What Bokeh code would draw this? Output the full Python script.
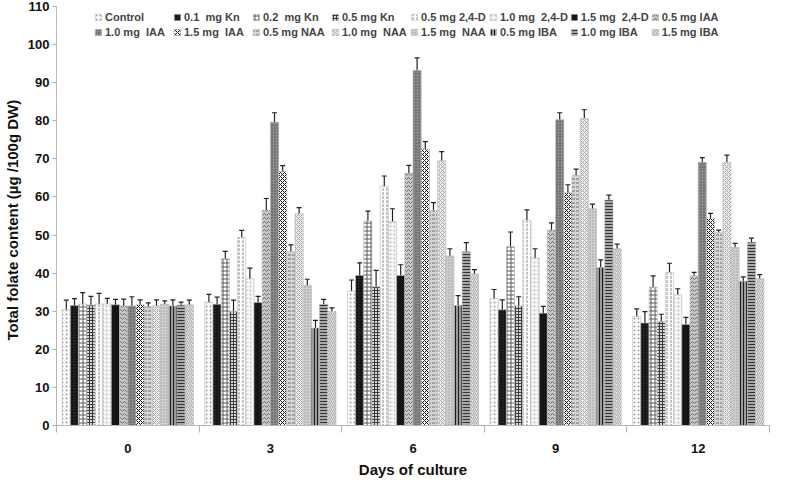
from bokeh.plotting import figure
from bokeh.models import (ColumnDataSource, Whisker, TeeHead, FixedTicker, Legend,
                          LegendItem, Range1d)
from bokeh.embed import file_html
from bokeh.resources import INLINE

days = ["0", "3", "6", "9", "12"]
series = ["Control", "0.1  mg Kn", "0.2  mg Kn", "0.5 mg Kn", "0.5 mg 2,4-D",
          "1.0 mg  2,4-D", "1.5 mg  2,4-D", "0.5 mg IAA", "1.0 mg  IAA", "1.5 mg  IAA",
          "0.5 mg NAA", "1.0 mg  NAA", "1.5 mg  NAA", "0.5 mg IBA", "1.0 mg IBA", "1.5 mg IBA"]

control    = [30.4, 32.3, 35.3, 33.3, 28.6]
kn_01      = [31.5, 31.8, 39.4, 30.4, 26.9]
kn_02      = [31.9, 43.8, 53.7, 47.0, 36.3]
kn_05      = [31.6, 29.9, 36.4, 31.4, 27.3]
d24_05     = [31.9, 49.4, 62.8, 53.9, 40.2]
d24_10     = [31.9, 38.5, 53.5, 44.0, 34.3]
d24_15     = [31.7, 32.3, 39.4, 29.5, 26.5]
iaa_05     = [31.4, 56.5, 66.2, 51.3, 39.3]
iaa_10     = [31.4, 79.6, 93.2, 80.3, 69.1]
iaa_15     = [31.7, 66.7, 72.5, 61.1, 54.5]
naa_05     = [31.2, 45.6, 56.4, 65.6, 50.7]
naa_10     = [31.4, 55.6, 69.5, 80.6, 69.1]
naa_15     = [31.9, 36.8, 44.5, 56.9, 46.8]
iba_05     = [31.4, 25.6, 31.5, 41.5, 37.9]
iba_10     = [31.6, 31.8, 45.6, 59.2, 48.1]
iba_15     = [31.7, 29.9, 39.8, 46.4, 38.5]

err_control = [2.5, 2.1, 2.9, 2.4, 2.0]
err_kn_01   = [1.8, 1.9, 3.3, 2.6, 3.0]
err_kn_02   = [3.0, 1.9, 2.6, 3.8, 3.0]
err_kn_05   = [2.3, 3.0, 4.3, 2.4, 1.9]
err_d24_05  = [2.8, 1.8, 2.7, 2.7, 2.4]
err_d24_10  = [1.5, 2.8, 3.4, 2.4, 1.6]
err_d24_15  = [1.4, 1.6, 2.8, 1.8, 1.9]
err_iaa_05  = [1.8, 3.1, 2.1, 1.9, 0.9]
err_iaa_10  = [2.4, 2.5, 3.3, 1.8, 1.2]
err_iaa_15  = [1.3, 1.5, 2.0, 2.1, 1.2]
err_naa_05  = [1.0, 1.8, 2.1, 1.7, 0.6]
err_naa_10  = [1.6, 1.6, 2.4, 2.3, 1.9]
err_naa_15  = [0.8, 1.6, 1.9, 1.2, 1.0]
err_iba_05  = [1.6, 2.0, 2.6, 2.0, 1.1]
err_iba_10  = [0.8, 1.3, 2.4, 1.3, 1.1]
err_iba_15  = [1.2, 1.0, 1.1, 1.2, 1.1]

values = [control, kn_01, kn_02, kn_05, d24_05, d24_10, d24_15, iaa_05, iaa_10,
          iaa_15, naa_05, naa_10, naa_15, iba_05, iba_10, iba_15]
errors = [err_control, err_kn_01, err_kn_02, err_kn_05, err_d24_05, err_d24_10,
          err_d24_15, err_iaa_05, err_iaa_10, err_iaa_15, err_naa_05, err_naa_10,
          err_naa_15, err_iba_05, err_iba_10, err_iba_15]

y_ticks = list(range(0, 111, 10))

# (fill, hatch pattern, hatch colour, hatch scale)
styles = [
    ("#ffffff", ".", "#9a9a9a", 4),
    ("#141414", ".", "#3a3a3a", 3),
    ("#ffffff", "+", "#5a5a5a", 4),
    ("#d8d8d8", "+", "#3c3c3c", 3),
    ("#ffffff", ":", "#8a8a8a", 4),
    ("#f6f6f6", ".", "#c0c0c0", 4),
    ("#161616", " ", "#161616", 3),
    ("#c8c8c8", "v", "#6a6a6a", 4),
    ("#8a8a8a", ".", "#4e4e4e", 3),
    ("#ffffff", "x", "#101010", 4),
    ("#d6d6d6", '"', "#6a6a6a", 4),
    ("#eeeeee", "x", "#a8a8a8", 4),
    ("#cfcfcf", ".", "#9a9a9a", 3),
    ("#9a9a9a", "|", "#1e1e1e", 3),
    ("#a8a8a8", "-", "#333333", 3),
    ("#e4e4e4", "/", "#a8a8a8", 4),
]

FONT = "Liberation Sans"

p = figure(width=771, height=480, output_backend="svg", toolbar_location=None,
           x_range=Range1d(0, 5), y_range=Range1d(0, 110),
           min_border_left=40, min_border_right=2, min_border_top=6, min_border_bottom=50)
p.outline_line_color = None
p.xgrid.grid_line_color = None
p.ygrid.grid_line_color = None
p.background_fill_color = "white"

n = len(series)
w = 0.92 / n
items = []
for j, (name, vals, errs, st) in enumerate(zip(series, values, errors, styles)):
    xs = [i + 0.5 + (j - (n - 1) / 2) * w for i in range(len(days))]
    src = ColumnDataSource(dict(x=xs, top=vals,
                                upper=[v + e for v, e in zip(vals, errs)],
                                lower=[v - e for v, e in zip(vals, errs)]))
    fill, hp, hc, hs = st
    r = p.vbar(x="x", top="top", width=w, source=src, fill_color=fill,
               line_color="#b8b8b8", line_width=0.6,
               hatch_pattern=hp, hatch_color=hc, hatch_scale=hs, hatch_weight=1)
    p.add_layout(Whisker(base="x", upper="upper", lower="lower", source=src,
                         dimension="height", line_color="#222222", line_width=1.2,
                         upper_head=TeeHead(size=5, line_color="#222222", line_width=1.2),
                         lower_head=TeeHead(size=5, line_color="#222222", line_width=1.2)))
    items.append(LegendItem(label=name, renderers=[r]))

legend = Legend(items=items, orientation="horizontal", ncols=8,
                location=(38, 387), padding=0, margin=0, spacing=2,
                glyph_width=8, glyph_height=8, label_standoff=3, label_width=66,
                label_text_font=FONT, label_text_font_style="bold",
                label_text_font_size="11px", label_height=13,
                background_fill_alpha=0, border_line_color=None)
p.add_layout(legend, "center")

# x axis: labels at group centres, ticks at group boundaries
p.xaxis.ticker = FixedTicker(ticks=[i + 0.5 for i in range(len(days))],
                             minor_ticks=list(range(len(days) + 1)))
p.xaxis.major_label_overrides = {i + 0.5: d for i, d in enumerate(days)}
p.xaxis.minor_tick_line_color = "#b0b0b0"
p.xaxis.minor_tick_out = 7
p.xaxis.minor_tick_in = 0
p.xaxis.major_label_standoff = 11
p.xaxis.axis_label = "Days of culture"
p.xaxis.axis_label_standoff = 5

p.yaxis.ticker = FixedTicker(ticks=y_ticks, minor_ticks=[])
p.yaxis.major_tick_out = 4
p.yaxis.major_tick_in = 0
p.yaxis.major_label_standoff = 3
p.yaxis.axis_label = "Total folate content  (µg /100g  DW)"
p.yaxis.axis_label_standoff = 4

for ax in (p.xaxis, p.yaxis):
    ax.axis_line_color = "#b8b8b8"
    ax.major_label_text_font = FONT
    ax.major_label_text_font_style = "bold"
    ax.major_label_text_font_size = "13px"
    ax.major_label_text_color = "#111111"
    ax.axis_label_text_font = FONT
    ax.axis_label_text_font_style = "bold"
    ax.axis_label_text_font_size = "15px"
    ax.axis_label_text_color = "#111111"
p.yaxis.major_tick_line_color = "#b0b0b0"
p.xaxis.major_tick_line_color = None

open("out.html", "w").write(file_html(p, INLINE))
